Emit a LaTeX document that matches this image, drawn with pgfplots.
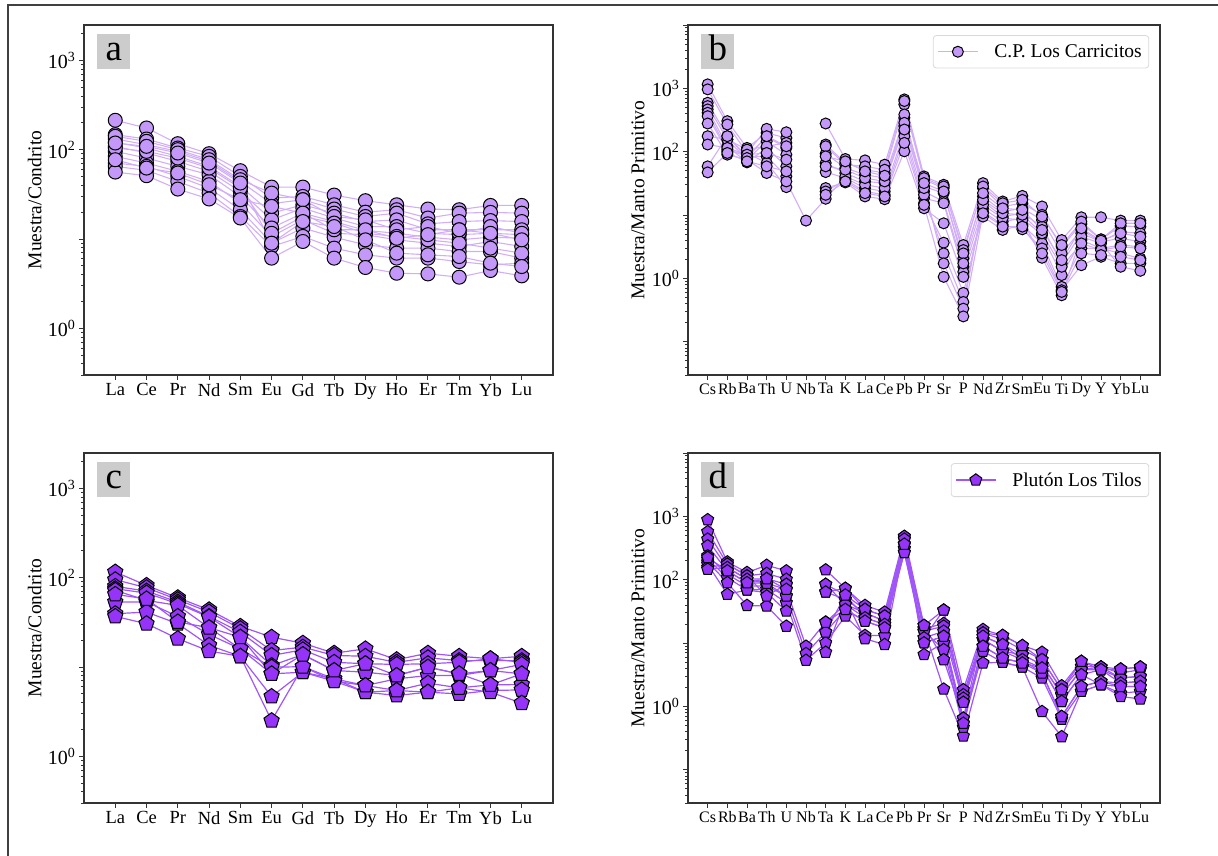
\documentclass[border=0pt]{standalone}
\usepackage{fontspec}
\setmainfont{Liberation Serif}
\usepackage{pgfplots}
\usepackage{pgfplotstable}
\pgfplotsset{compat=1.18}
\usetikzlibrary{plotmarks}
\definecolor{lavM}{HTML}{C498F8}
\definecolor{lavL}{HTML}{D2AEF8}
\definecolor{purM}{HTML}{9633F8}
\definecolor{purL}{HTML}{A055F8}
\definecolor{axc}{HTML}{333333}

\pgfplotstableread{
x a1 a2 a3 a4 a5 a6 a7 a8 a9 a10 a11 a12 a13 a14
0 214 147.7 132 121 109.3 96.0 84.4 71.0 65.2 56.3 141.5 104.7 77.4 119.1
1 175.5 132 114.1 104.7 92.0 80.8 71.0 65.2 58.8 51.2 124.3 96.0 62.4 109.3
2 117 104.7 96.0 84.4 74.2 65.2 57.3 50.3 44.2 36.3 100.3 80.8 54.9 92.0
3 90.4 84.4 74.2 65.2 57.3 52.5 44.2 37.2 32.7 28.1 77.4 62.4 40.6 71.0
4 58.3 50.3 44.2 38.9 34.2 30.0 25.3 21.3 17.9 17.2 46.2 37.2 27.6 42.4
5 38.2 28.8 24.9 19.5 16.4 13.3 10.7 8.99 8.25 6.11 32.7 11.6 23.2 8.99
6 38.2 30.0 27.6 24.2 22.2 19.5 16.4 13.3 10.7 9.39 27.6 17.9 19.5 15.7
7 31.1 24.2 21.7 19.5 17.2 15.7 11.6 10.5 7.91 6.11 17.9 15.1 12.7 13.8
8 26.9 20.0 17.9 15.7 13.8 12.5 11.2 8.61 6.66 4.80 16.4 11.6 12.7 9.80
9 24.2 21.3 19.5 16.4 13.8 11.6 9.80 7.91 6.11 4.14 12.7 10.7 10.2 6.95
10 21.7 17.2 14.8 12.7 11.6 10.5 8.99 7.91 6.11 4.07 13.8 9.80 11.2 6.66
11 21.3 19.5 15.7 12.7 11.2 9.80 8.25 7.25 5.60 3.74 11.6 8.99 12.7 6.37
12 23.8 19.9 16.1 12.7 11.6 10.5 9.39 7.25 5.14 4.44 13.8 7.91 11.6 5.37
13 23.8 19.5 15.7 12.7 11.2 10.2 8.25 6.11 5.37 3.87 11.6 6.95 9.80 4.92
}\tabA

\pgfplotstableread{
x s1 s2 s3 s4 s5 s6 s7 s8 s9 s10 s11 s12
0 1157 964 593 525 465 412 364 279 176 130 58.8 47.2
1 304 269 176 156 122 108 101.6 89.9 156 115 176 95.6
2 115 95.6 84.6 75.0 68.0 84.6 95.6 75.0 108 89.9 79.6 70.5
3 198 230 171 146 115 84.6 66.4 46.1 122 95.6 176 58.8
4 165 203 115 89.9 58.8 40.8 27.6 34.0 138 75.0 122 49.0
5 nan nan nan nan nan nan nan 8.19 nan nan nan nan
6 279 130 93.3 66.4 47.8 26.7 23.6 18.1 122 58.8 84.6 20.9
7 76.8 66.4 55.3 46.1 38.4 32.8 36.1 40.8 62.5 52.0 70.5 34.0
8 73.1 52.0 43.4 34.0 26.7 19.7 23.6 30.1 58.8 38.4 49.0 22.2
9 62.5 46.1 38.4 32.0 23.6 17.8 20.9 26.7 52.0 34.0 41.8 19.7
10 670 558 343 253 211 101.6 176 387 631 286 224 138
11 40.8 36.1 28.3 23.6 18.5 12.8 15.4 20.9 38.4 26.7 32.0 14.5
12 30.1 26.7 22.2 16.4 15.4 7.43 3.67 2.49 28.3 1.73 23.6 1.06
13 3.37 2.81 2.07 1.53 1.27 1.06 0.592 0.426 2.49 0.334 1.73 0.252
14 32.0 26.7 19.7 16.4 12.8 9.48 11.4 14.5 28.3 17.4 22.2 10.7
15 16.4 13.7 11.4 9.48 7.90 5.83 6.99 8.92 15.4 10.7 12.8 6.58
16 20.1 15.4 12.8 10.7 8.92 6.99 5.97 8.39 17.4 10.1 12.1 6.58
17 13.7 10.1 8.39 6.58 4.86 3.58 2.98 2.12 9.48 5.16 5.83 2.49
18 4.04 3.17 2.49 1.73 1.13 0.737 0.652 0.543 3.37 1.53 1.95 0.614
19 9.25 7.25 5.83 5.16 4.04 2.98 1.62 4.57 7.90 3.58 6.19 2.49
20 9.25 4.14 3.81 3.81 2.98 2.98 2.20 3.58 4.14 2.81 3.95 2.34
21 8.19 6.74 5.48 4.30 3.37 2.49 1.73 1.53 7.43 3.17 5.16 2.20
22 8.19 6.58 5.16 3.81 3.17 2.07 1.73 1.32 7.43 2.98 4.57 1.95
}\tabB

\pgfplotstableread{
x c1 c2 c3 c4 c5 c6 c7 c8 c9
0 116 95.2 80.1 75.4 72.3 53.5 39.6 36.9 65.2
1 82.2 77.4 71.0 67.4 55.8 53.5 41.3 30.6 58.0
2 59.8 56.8 53.5 51.2 49.0 36.9 30.6 20.8 32.0
3 43.8 41.3 36.9 36.3 27.6 23.2 17.5 15.1 27.6
4 28.6 26.9 24.6 21.6 16.0 16.0 13.2 13.2 21.6
5 21.6 15.3 13.5 10.4 9.96 8.39 4.68 2.51 8.39
6 18.5 16.7 15.6 13.8 10.1 8.76 8.76 10.1 13.8
7 14.3 13.5 11.3 9.15 7.38 6.95 7.38 6.95 9.15
8 16.0 13.2 10.9 8.76 6.21 5.23 5.23 6.21 10.9
9 12.1 11.3 10.7 8.04 7.38 5.46 4.80 5.46 8.04
10 14.3 12.7 10.9 9.96 8.04 6.60 5.23 5.23 9.96
11 13.2 11.8 11.3 8.39 8.04 5.85 5.00 5.85 8.39
12 12.4 11.8 12.4 9.15 9.15 6.32 5.46 5.23 6.32
13 13.2 11.8 11.3 10.7 8.39 6.37 5.55 3.94 8.39
}\tabC

\pgfplotstableread{
x t1 t2 t3 t4 t5 t6 t7 t8 t9 t10 t11
0 885 572 437 343 238 211 191 176 156 146 224
1 191 176 156 138 122 108 89.9 58.8 176 156 138
2 130 115 101.6 89.9 79.6 68.9 39.3 68.9 115 101.6 89.9
3 169 126 104 87.8 79.6 70.5 38.4 62.5 55.3 87.8 104
4 138 101.6 84.6 70.5 55.3 43.4 18.5 32.0 84.6 55.3 70.5
5 nan nan nan 8.92 6.83 5.35 nan nan nan nan nan
6 143 84.6 64.0 21.4 14.9 10.1 7.17 84.6 64.0 14.9 21.4
7 73.1 57.4 49.0 40.8 34.0 26.7 49.0 40.8 73.1 57.4 34.0
8 39.3 34.0 30.1 25.1 22.2 13.2 11.7 30.1 34.0 25.1 22.2
9 30.8 26.7 22.2 19.7 17.4 13.2 9.48 22.2 26.7 19.7 17.4
10 482 437 364 311 269 482 364 437 311 269 364
11 19.0 16.8 15.4 12.1 10.1 6.58 16.8 15.4 19.0 12.1 10.1
12 33.2 20.4 18.5 15.4 12.8 10.1 1.88 7.90 5.48 33.2 12.8
13 1.84 1.53 1.35 1.16 0.653 0.544 0.342 0.470 0.653 1.16 0.544
14 16.4 14.5 12.8 11.4 8.92 7.43 4.86 11.4 14.5 12.8 8.92
15 13.2 11.4 9.48 7.43 5.83 4.98 4.98 7.43 13.2 9.48 5.83
16 9.14 7.90 6.58 5.48 4.86 4.20 4.20 6.58 9.14 5.48 4.86
17 7.17 5.48 4.57 4.05 3.37 2.81 0.832 4.57 5.48 3.37 4.05
18 2.12 1.84 1.53 1.20 0.694 0.629 0.334 1.53 1.84 0.694 1.20
19 5.16 4.30 3.81 3.17 2.07 1.73 1.73 3.81 5.16 2.07 3.17
20 4.20 4.20 3.81 3.81 2.49 2.20 2.20 4.20 3.81 2.49 2.20
21 3.90 3.37 2.81 2.34 2.07 1.62 1.44 2.81 3.90 2.34 2.07
22 4.20 3.81 2.99 2.49 2.07 1.73 1.31 2.99 4.20 2.49 2.07
}\tabD

\tikzset{
  myPanelLab/.style={fill=gray!40, anchor=north west, font=\fontsize{37}{40}\selectfont, text height=26pt, text depth=7pt, inner ysep=1pt, inner xsep=0pt, minimum width=33pt},
}
\pgfplotsset{
  legend image code/.code={\draw[mark repeat=2,mark phase=2,#1] plot coordinates {(0pt,0pt) (20pt,0pt) (40pt,0pt)};},
}

\begin{document}
\begin{tikzpicture}
\path[use as bounding box] (0pt,0pt) rectangle (1218pt,856pt);
\draw[line width=2pt, black!75] (8pt,0pt) -- (8pt,851pt) -- (1218pt,851pt);

% panel a
\begin{axis}[at={(84pt,481pt)}, anchor=south west,
    scale only axis, width=469pt, height=350pt, ymode=log,
    xmin=-1, xmax=14, ymin=0.3, ymax=2500,
    tick pos=left, tick align=outside, major tick length=5pt, minor tick length=3pt,
    axis line style={line width=1.1pt, draw=axc},
    every tick/.append style={line width=0.9pt, draw=axc},
    unbounded coords=jump,
    xtick={0,...,13}, xticklabels={La,Ce,Pr,Nd,Sm,Eu,Gd,Tb,Dy,Ho,Er,Tm,Yb,Lu},
    xticklabel style={font=\fontsize{18.5}{20}\selectfont},
    ytick={1,10,100,1000}, yticklabels={10\textsuperscript{0},,10\textsuperscript{2},10\textsuperscript{3}},
    minor ytick={0.3,0.4,0.5,0.6,0.7,0.8,0.9,2,3,4,5,6,7,8,9,20,30,40,50,60,70,80,90,200,300,400,500,600,700,800,900,2000},
    yticklabel style={font=\fontsize{20}{22}\selectfont},
    ylabel={Muestra/Condrito},
    ylabel style={at={(axis description cs:-0.105,0.5)}, anchor=center, font=\fontsize{19.5}{21}\selectfont}]
\pgfplotsinvokeforeach{1,...,14}{\addplot[color=lavL, line width=1.1pt, mark=*, mark size=7pt, mark options={fill=lavM, draw=black, line width=1pt, solid}] table[x=x,y=a#1]{\tabA};}
\node[myPanelLab] at (rel axis cs:0.028,0.975) {a};
\end{axis}

% panel b
\begin{axis}[at={(688pt,481pt)}, anchor=south west,
    scale only axis, width=472pt, height=350pt, ymode=log,
    xmin=-1, xmax=23, ymin=0.03, ymax=10000,
    tick pos=left, tick align=outside, major tick length=5pt, minor tick length=3pt,
    axis line style={line width=1.1pt, draw=axc},
    every tick/.append style={line width=0.9pt, draw=axc},
    unbounded coords=jump,
    xtick={0,...,22}, xticklabels={Cs,Rb,Ba,Th,U,Nb,Ta,K,La,Ce,Pb,Pr,Sr,P,Nd,Zr,Sm,Eu,Ti,Dy,Y,Yb,Lu},
    xticklabel style={font=\fontsize{16}{17}\selectfont},
    ytick={0.1,1,10,100,1000,10000}, yticklabels={,10\textsuperscript{0},,10\textsuperscript{2},10\textsuperscript{3},},
    minor ytick={0.03,0.04,0.05,0.06,0.07,0.08,0.09,0.2,0.3,0.4,0.5,0.6,0.7,0.8,0.9,2,3,4,5,6,7,8,9,20,30,40,50,60,70,80,90,200,300,400,500,600,700,800,900,2000,3000,4000,5000,6000,7000,8000,9000},
    yticklabel style={font=\fontsize{20}{22}\selectfont},
    ylabel={Muestra/Manto Primitivo},
    ylabel style={at={(axis description cs:-0.106,0.5)}, anchor=center, font=\fontsize{19.5}{21}\selectfont},
    legend style={at={(rel axis cs:0.977,0.971)}, anchor=north east, draw=black!15, rounded corners=3pt, line width=0.8pt, font=\fontsize{19.5}{21}\selectfont, inner xsep=4pt, inner ysep=6pt, nodes={inner sep=3pt}, /tikz/every odd column/.append style={column sep=13pt}},
    legend cell align=left]
\addplot[color=lavL, line width=1.1pt, mark=*, mark size=5.5pt, mark options={fill=lavM, draw=black, line width=1pt, solid}] table[x=x,y=s1]{\tabB};
\addlegendentry{C.P. Los Carricitos}
\pgfplotsinvokeforeach{2,...,12}{\addplot[forget plot, color=lavL, line width=1.1pt, mark=*, mark size=5.5pt, mark options={fill=lavM, draw=black, line width=1pt, solid}] table[x=x,y=s#1]{\tabB};}
\node[myPanelLab] at (rel axis cs:0.028,0.975) {b};
\end{axis}

% panel c
\begin{axis}[at={(84pt,53pt)}, anchor=south west,
    scale only axis, width=469pt, height=350pt, ymode=log,
    xmin=-1, xmax=14, ymin=0.3, ymax=2500,
    tick pos=left, tick align=outside, major tick length=5pt, minor tick length=3pt,
    axis line style={line width=1.1pt, draw=axc},
    every tick/.append style={line width=0.9pt, draw=axc},
    unbounded coords=jump,
    xtick={0,...,13}, xticklabels={La,Ce,Pr,Nd,Sm,Eu,Gd,Tb,Dy,Ho,Er,Tm,Yb,Lu},
    xticklabel style={font=\fontsize{18.5}{20}\selectfont},
    ytick={1,10,100,1000}, yticklabels={10\textsuperscript{0},,10\textsuperscript{2},10\textsuperscript{3}},
    minor ytick={0.3,0.4,0.5,0.6,0.7,0.8,0.9,2,3,4,5,6,7,8,9,20,30,40,50,60,70,80,90,200,300,400,500,600,700,800,900,2000},
    yticklabel style={font=\fontsize{20}{22}\selectfont},
    ylabel={Muestra/Condrito},
    ylabel style={at={(axis description cs:-0.105,0.5)}, anchor=center, font=\fontsize{19.5}{21}\selectfont}]
\pgfplotsinvokeforeach{1,...,9}{\addplot[color=purL, line width=1.2pt, mark=pentagon*, mark size=8pt, mark options={fill=purM, draw=black, line width=1pt, solid}] table[x=x,y=c#1]{\tabC};}
\node[myPanelLab] at (rel axis cs:0.028,0.975) {c};
\end{axis}

% panel d
\begin{axis}[at={(688pt,53pt)}, anchor=south west,
    scale only axis, width=472pt, height=350pt, ymode=log,
    xmin=-1, xmax=23, ymin=0.03, ymax=10000,
    tick pos=left, tick align=outside, major tick length=5pt, minor tick length=3pt,
    axis line style={line width=1.1pt, draw=axc},
    every tick/.append style={line width=0.9pt, draw=axc},
    unbounded coords=jump,
    xtick={0,...,22}, xticklabels={Cs,Rb,Ba,Th,U,Nb,Ta,K,La,Ce,Pb,Pr,Sr,P,Nd,Zr,Sm,Eu,Ti,Dy,Y,Yb,Lu},
    xticklabel style={font=\fontsize{16}{17}\selectfont},
    ytick={0.1,1,10,100,1000,10000}, yticklabels={,10\textsuperscript{0},,10\textsuperscript{2},10\textsuperscript{3},},
    minor ytick={0.03,0.04,0.05,0.06,0.07,0.08,0.09,0.2,0.3,0.4,0.5,0.6,0.7,0.8,0.9,2,3,4,5,6,7,8,9,20,30,40,50,60,70,80,90,200,300,400,500,600,700,800,900,2000,3000,4000,5000,6000,7000,8000,9000},
    yticklabel style={font=\fontsize{20}{22}\selectfont},
    ylabel={Muestra/Manto Primitivo},
    ylabel style={at={(axis description cs:-0.106,0.5)}, anchor=center, font=\fontsize{19.5}{21}\selectfont},
    legend style={at={(rel axis cs:0.977,0.971)}, anchor=north east, draw=black!15, rounded corners=3pt, line width=0.8pt, font=\fontsize{19.5}{21}\selectfont, inner xsep=4pt, inner ysep=6pt, nodes={inner sep=3pt}, /tikz/every odd column/.append style={column sep=13pt}},
    legend cell align=left]
\addplot[color=purL, line width=1.2pt, mark=pentagon*, mark size=6.3pt, mark options={fill=purM, draw=black, line width=1pt, solid}] table[x=x,y=t1]{\tabD};
\addlegendentry{Plutón Los Tilos}
\pgfplotsinvokeforeach{2,...,11}{\addplot[forget plot, color=purL, line width=1.2pt, mark=pentagon*, mark size=6.3pt, mark options={fill=purM, draw=black, line width=1pt, solid}] table[x=x,y=t#1]{\tabD};}
\node[myPanelLab] at (rel axis cs:0.028,0.975) {d};
\end{axis}
\end{tikzpicture}
\end{document}
